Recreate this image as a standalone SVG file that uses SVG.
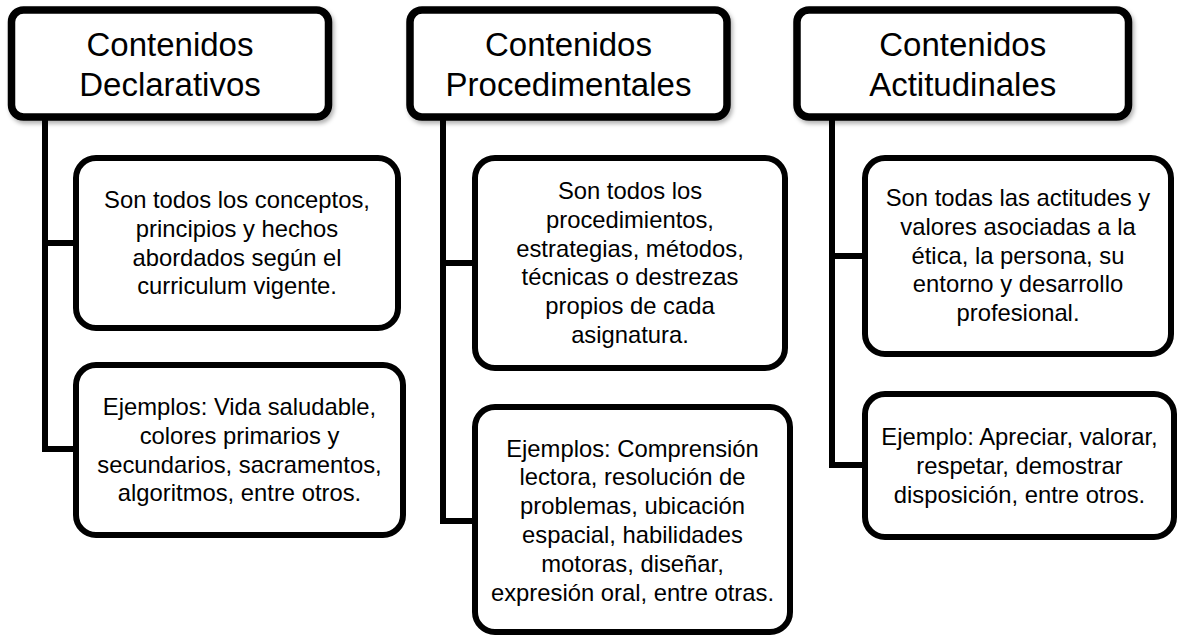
<svg xmlns="http://www.w3.org/2000/svg" width="1179" height="637" viewBox="0 0 1179 637">
<style>
.hdr{fill:#fff;stroke:#000;stroke-width:7.5;filter:url(#sh)}
.box{fill:#fff;stroke:#000;stroke-width:6}
.con{fill:none;stroke:#000;stroke-width:6;stroke-linejoin:miter}
.ht{font-family:"Liberation Sans",Arial,sans-serif;font-size:33px;fill:#000;text-anchor:middle}
.bt{font-family:"Liberation Sans",Arial,sans-serif;font-size:23.8px;fill:#000;text-anchor:middle}
</style>
<defs>
<filter id="sh" x="-10%" y="-10%" width="125%" height="130%">
<feDropShadow dx="2" dy="3" stdDeviation="2" flood-color="#000" flood-opacity="0.3"/>
</filter>
</defs>
<rect width="1179" height="637" fill="#fff"/>
<g id="connectors">
<path class="con" d="M45,117 V449 H76 M45,243 H76"/>
<path class="con" d="M443,117 V521 H475 M443,263 H475"/>
<path class="con" d="M832,117 V465 H865 M832,256 H865"/>
</g>
<g id="h1">
<rect class="hdr" x="11.5" y="10" width="317" height="107" rx="12"/>
<text class="ht" x="170" y="56">Contenidos</text>
<text class="ht" x="170" y="96">Declarativos</text>
</g>
<g id="h2">
<rect class="hdr" x="410" y="10" width="317" height="107" rx="12"/>
<text class="ht" x="568.5" y="56">Contenidos</text>
<text class="ht" x="568.5" y="96">Procedimentales</text>
</g>
<g id="h3">
<rect class="hdr" x="797" y="10" width="331.5" height="107" rx="12"/>
<text class="ht" x="962.75" y="56">Contenidos</text>
<text class="ht" x="962.75" y="96">Actitudinales</text>
</g>
<g id="d1">
<rect class="box" x="76" y="158" width="322" height="170" rx="20"/>
<text class="bt" x="237" y="208">Son todos los conceptos,</text>
<text class="bt" x="237" y="236.8">principios y hechos</text>
<text class="bt" x="237" y="265.6">abordados según el</text>
<text class="bt" x="237" y="294.4">curriculum vigente.</text>
</g>
<g id="d2">
<rect class="box" x="76" y="365" width="327" height="170" rx="20"/>
<text class="bt" x="239.5" y="415">Ejemplos: Vida saludable,</text>
<text class="bt" x="239.5" y="443.8">colores primarios y</text>
<text class="bt" x="239.5" y="472.6">secundarios, sacramentos,</text>
<text class="bt" x="239.5" y="501.4">algoritmos, entre otros.</text>
</g>
<g id="p1">
<rect class="box" x="475" y="158" width="310" height="210" rx="20"/>
<text class="bt" x="630" y="199">Son todos los</text>
<text class="bt" x="630" y="227.8">procedimientos,</text>
<text class="bt" x="630" y="256.6">estrategias, métodos,</text>
<text class="bt" x="630" y="285.4">técnicas o destrezas</text>
<text class="bt" x="630" y="314.2">propios de cada</text>
<text class="bt" x="630" y="343">asignatura.</text>
</g>
<g id="p2">
<rect class="box" x="475" y="407" width="315" height="225" rx="20"/>
<text class="bt" x="632.5" y="456.5">Ejemplos: Comprensión</text>
<text class="bt" x="632.5" y="485.3">lectora, resolución de</text>
<text class="bt" x="632.5" y="514.1">problemas, ubicación</text>
<text class="bt" x="632.5" y="542.9">espacial, habilidades</text>
<text class="bt" x="632.5" y="571.7">motoras, diseñar,</text>
<text class="bt" x="632.5" y="600.5">expresión oral, entre otras.</text>
</g>
<g id="a1">
<rect class="box" x="865" y="158" width="306" height="196" rx="20"/>
<text class="bt" x="1018" y="206">Son todas las actitudes y</text>
<text class="bt" x="1018" y="234.8">valores asociadas a la</text>
<text class="bt" x="1018" y="263.6">ética, la persona, su</text>
<text class="bt" x="1018" y="292.4">entorno y desarrollo</text>
<text class="bt" x="1018" y="321.2">profesional.</text>
</g>
<g id="a2">
<rect class="box" x="865" y="394" width="309" height="143" rx="20"/>
<text class="bt" x="1019.5" y="445">Ejemplo: Apreciar, valorar,</text>
<text class="bt" x="1019.5" y="473.8">respetar, demostrar</text>
<text class="bt" x="1019.5" y="502.6">disposición, entre otros.</text>
</g>
</svg>
